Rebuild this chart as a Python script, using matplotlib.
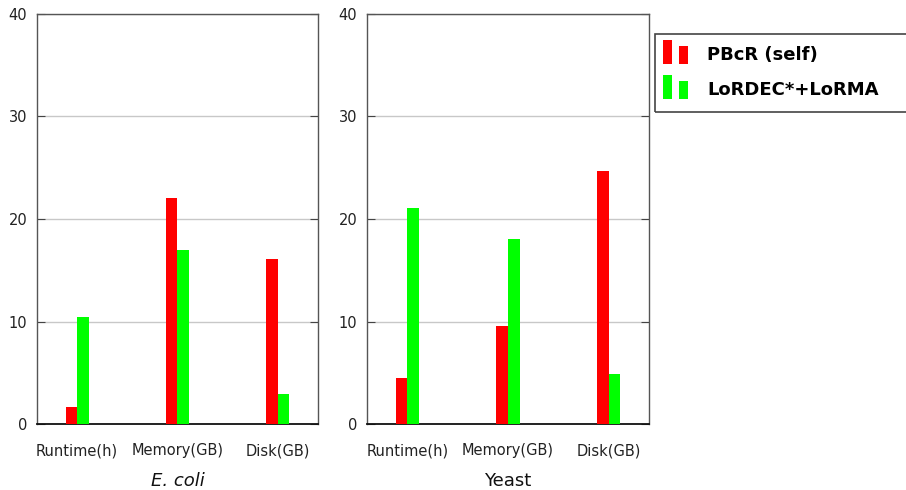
import matplotlib
matplotlib.use("Agg")
import matplotlib.pyplot as plt
import numpy as np
from matplotlib.patches import Rectangle
from matplotlib.legend_handler import HandlerBase

categories = ["Runtime(h)", "Memory(GB)", "Disk(GB)"]
series_names = ["PBcR (self)", "LoRDEC*+LoRMA"]
ecoli_pbcr = [1.7, 22.0, 16.1]
ecoli_lordec = [10.4, 17.0, 2.9]
yeast_pbcr = [4.5, 9.6, 24.7]
yeast_lordec = [21.1, 18.0, 4.9]
yticks = [0, 10, 20, 30, 40]
colors = ["#ff0000", "#00ff00"]

plt.rcParams['font.family'] = ['DejaVu Sans']

fig = plt.figure(figsize=(9.06, 4.90), dpi=100)
W, H = 906, 490

def add_ax(x0, x1, y0, y1):
    return fig.add_axes([x0 / W, 1 - y1 / H, (x1 - x0) / W, (y1 - y0) / H])

ax1 = add_ax(37, 318, 14, 424)
ax2 = add_ax(367, 649, 14, 424)

bw = 0.115
x = np.arange(len(categories))
bars = []
for ax, a, b, title, style in [(ax1, ecoli_pbcr, ecoli_lordec, "E. coli", "italic"),
                               (ax2, yeast_pbcr, yeast_lordec, "Yeast", "normal")]:
    r1 = ax.bar(x - bw / 2, a, bw, color=colors[0], zorder=3)
    r2 = ax.bar(x + bw / 2, b, bw, color=colors[1], zorder=3)
    bars = [r1, r2]
    ax.set_xlim(-0.4, 2.4)
    ax.set_ylim(0, 40)
    ax.set_yticks(yticks)
    ax.set_xticks(x)
    ax.set_xticklabels(categories, fontsize=10.5, color="#222222")
    ax.tick_params(axis="x", length=0, pad=14)
    ax.tick_params(axis="y", direction="in", length=6, left=True, right=True,
                   labelsize=10.5, labelcolor="#222222", color="#444444", pad=7)
    ax.grid(axis="y", color="#c8c8c8", linewidth=1.0, zorder=0)
    for s in ["left", "right", "top"]:
        ax.spines[s].set_color("#555555")
        ax.spines[s].set_linewidth(1.0)
    ax.spines["bottom"].set_color("#111111")
    ax.spines["bottom"].set_linewidth(1.3)
    ax.set_xlabel(title, fontsize=13, style=style, labelpad=10, color="#111111")

class TwoRect(HandlerBase):
    def create_artists(self, legend, orig_handle, xdescent, ydescent, width, height, fontsize, trans):
        c = orig_handle.patches[0].get_facecolor()
        y0 = -ydescent - 0.3 * height
        w = width * 0.4
        r1 = Rectangle((-xdescent, y0), w, height * 1.9, facecolor=c, edgecolor="none", transform=trans)
        r2 = Rectangle((-xdescent + width * 0.68, y0), w, height * 1.43, facecolor=c, edgecolor="none", transform=trans)
        return [r1, r2]

leg = fig.legend(bars, series_names, loc="upper left",
                 bbox_to_anchor=(663 / W, 1 - 46 / H),
                 frameon=False, handler_map={type(bars[0]): TwoRect()},
                 prop={"weight": "bold", "size": 13}, handlelength=1.3,
                 handletextpad=1.15, labelspacing=0.95, borderaxespad=0, borderpad=0)
fig.add_artist(Rectangle((655 / W, 1 - 112 / H), 260 / W, 78 / H, transform=fig.transFigure,
                         facecolor="none", edgecolor="#444444", linewidth=1.2, clip_on=False))

fig.savefig("out.png", dpi=100)
